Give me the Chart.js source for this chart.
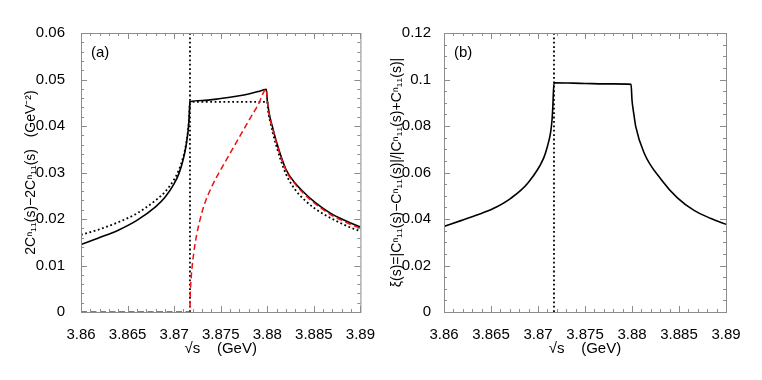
<!DOCTYPE html>
<html>
<head>
<meta charset="utf-8">
<script src="https://cdn.jsdelivr.net/npm/chart.js@4.4.0/dist/chart.umd.min.js"></script>
<style>
html, body { margin: 0; padding: 0; background: #fff; }
#wrap { position: relative; width: 762px; height: 380px; }
canvas { position: absolute; top: 0; }
</style>
</head>
<body>
<div id="wrap">
  <canvas id="panelA" width="381" height="380" style="left:0"></canvas>
  <canvas id="panelB" width="381" height="380" style="left:381px"></canvas>
</div>
<script>
// tick labels
const xTicks = [3.86, 3.865, 3.87, 3.875, 3.88, 3.885, 3.89];
const yTicksA = [0, 0.01, 0.02, 0.03, 0.04, 0.05, 0.06];
const yTicksB = [0, 0.02, 0.04, 0.06, 0.08, 0.1, 0.12];

// D0 D*0 threshold (vertical dotted line)
const thresholdX = [3.8717, 3.8717];
const thresholdYA = [0, 0.06];
const thresholdYB = [0, 0.12];

// panel (a): solid black curve
const solidX = [3.860, 3.862, 3.864, 3.866, 3.868, 3.869, 3.870, 3.8705, 3.871, 3.8713, 3.8715, 3.8716, 3.8717,
                3.873, 3.875, 3.877, 3.878, 3.879, 3.8795, 3.8799,
                3.8800, 3.8801, 3.8803, 3.8806, 3.881, 3.882, 3.883, 3.884, 3.885, 3.886, 3.887, 3.888, 3.889, 3.890];
const solidY = [0.0145, 0.0160, 0.0176, 0.0197, 0.0226, 0.0246, 0.0276, 0.0297, 0.0330, 0.0360, 0.0390, 0.0415, 0.0452,
                0.0455, 0.0459, 0.0465, 0.0469, 0.0474, 0.0477, 0.0479,
                0.0455, 0.0440, 0.0418, 0.0395, 0.0365, 0.0307, 0.0277, 0.0256, 0.0238, 0.0223, 0.0210, 0.0200, 0.0191, 0.0183];

// panel (a): dotted black curve
const dottedX = [3.860, 3.862, 3.864, 3.866, 3.868, 3.869, 3.870, 3.8705, 3.871, 3.8713, 3.8715, 3.8716, 3.8717,
                 3.8800, 3.8801, 3.8803, 3.8806, 3.881, 3.882, 3.883, 3.884, 3.885, 3.886, 3.887, 3.888, 3.889, 3.890];
const dottedY = [0.0166, 0.0178, 0.0193, 0.0212, 0.0240, 0.0258, 0.0285, 0.0305, 0.0335, 0.0363, 0.0392, 0.0415, 0.0452,
                 0.0452, 0.0430, 0.0410, 0.0385, 0.0355, 0.0297, 0.0263, 0.0241, 0.0224, 0.0211, 0.0200, 0.0190, 0.0181, 0.0174];

// panel (a): red dashed curve
const dashedX = [3.860, 3.8717, 3.87172, 3.87175, 3.8718, 3.8719, 3.8721, 3.8724, 3.8728, 3.8731, 3.8734, 3.874,
                 3.8745, 3.875, 3.876, 3.877, 3.878, 3.879, 3.8799,
                 3.8800, 3.8801, 3.8803, 3.8806, 3.881, 3.882, 3.883, 3.884, 3.885, 3.886, 3.887, 3.888, 3.889, 3.890];
const dashedY = [0, 0, 0.0030, 0.0047, 0.0065, 0.0091, 0.0126, 0.0164, 0.0200, 0.0222, 0.0240, 0.0268,
                 0.0288, 0.0306, 0.0341, 0.0376, 0.0411, 0.0445, 0.0479,
                 0.0455, 0.0439, 0.0416, 0.0393, 0.0363, 0.0305, 0.0275, 0.0253, 0.0235, 0.0220, 0.0207, 0.0197, 0.0188, 0.0180];

// panel (b): xi(s)
const xiX = [3.860, 3.8618, 3.8635, 3.8653, 3.8671, 3.8689, 3.8706, 3.871, 3.87135, 3.8715, 3.87158, 3.8717,
             3.875, 3.878, 3.8799, 3.8800, 3.8802, 3.8804, 3.8813, 3.8831, 3.8848, 3.8866, 3.8884, 3.8900];
const xiY = [0.0368, 0.0393, 0.0417, 0.0446, 0.0489, 0.0554, 0.0662, 0.0712, 0.0775, 0.0830, 0.0885, 0.0986,
             0.0983, 0.0981, 0.0979, 0.0912, 0.0850, 0.0797, 0.0683, 0.0570, 0.0492, 0.0437, 0.0402, 0.0377];

const FAMILY = '"Liberation Sans", Arial, sans-serif';

function pts(xs, ys) {
    return xs.map((x, i) => ({ x: x, y: ys[i] }));
}

function line(data, color, width, dash, smooth) {
    return {
        data: data,
        showLine: true,
        borderColor: color,
        borderWidth: width,
        borderDash: dash,
        pointRadius: 0,
        fill: false,
        cubicInterpolationMode: smooth ? 'monotone' : 'default',
        tension: 0
    };
}

// gnuplot-like frame: grey box with inward major and minor ticks on all sides
function tickList(majors, sub) {
    let out = [];
    majors.forEach((v, i) => {
        out.push([v, true]);
        if (i < majors.length - 1) {
            let step = (majors[i + 1] - v) / sub;
            for (let k = 1; k < sub; k++) out.push([v + k * step, false]);
        }
    });
    return out;
}

const framePlugin = {
    id: 'frame',
    afterDatasetsDraw(chart, args, opts) {
        const { ctx, chartArea: a, scales } = chart;
        ctx.save();
        ctx.strokeStyle = '#8c8c8c';
        ctx.lineWidth = 1;
        ctx.strokeRect(a.left + 0.5, a.top + 0.5, a.right - a.left, a.bottom - a.top);
        ctx.beginPath();
        tickList(xTicks, 5).forEach(([v, major]) => {
            const px = Math.round(scales.x.getPixelForValue(v)) + 0.5;
            const l = major ? 6 : 3;
            ctx.moveTo(px, a.bottom); ctx.lineTo(px, a.bottom - l);
            ctx.moveTo(px, a.top); ctx.lineTo(px, a.top + l);
        });
        tickList(opts.yTicks, opts.ySub).forEach(([v, major]) => {
            const py = Math.round(scales.y.getPixelForValue(v)) + 0.5;
            const l = major ? 6 : 3;
            ctx.moveTo(a.left, py); ctx.lineTo(a.left + l, py);
            ctx.moveTo(a.right, py); ctx.lineTo(a.right - l, py);
        });
        ctx.stroke();
        ctx.fillStyle = '#000';
        ctx.font = '15px ' + FAMILY;
        ctx.textBaseline = 'alphabetic';
        ctx.fillText(opts.label, a.left + 10, a.top + 24);
        ctx.restore();
    }
};

function makeChart(id, datasets, yTicks, ySub, yTitle, yWidth, yTitlePad, yTickPad, rightPad, label) {
    const tickFont = { family: FAMILY, size: 15 };
    return new Chart(document.getElementById(id), {
        type: 'scatter',
        data: { datasets: datasets },
        options: {
            responsive: false,
            animation: false,
            events: [],
            layout: { padding: { left: 0, right: rightPad, top: 33, bottom: 0 } },
            plugins: {
                legend: { display: false },
                tooltip: { enabled: false },
                frame: { yTicks: yTicks, ySub: ySub, label: label }
            },
            scales: {
                x: {
                    type: 'linear',
                    min: xTicks[0],
                    max: xTicks[xTicks.length - 1],
                    afterBuildTicks: s => { s.ticks = xTicks.map(v => ({ value: v })); },
                    afterFit: s => { s.height = 68; },
                    grid: { display: false },
                    border: { display: false },
                    ticks: { color: '#000', font: tickFont, padding: 6, maxRotation: 0, autoSkip: false,
                             callback: v => String(v) },
                    title: { display: true, text: '√s    (GeV)', color: '#000',
                             font: { family: FAMILY, size: 15 }, padding: { top: 0, bottom: 22 } }
                },
                y: {
                    type: 'linear',
                    min: yTicks[0],
                    max: yTicks[yTicks.length - 1],
                    afterBuildTicks: s => { s.ticks = yTicks.map(v => ({ value: v })); },
                    afterFit: s => { s.width = yWidth; },
                    grid: { display: false },
                    border: { display: false },
                    ticks: { color: '#000', font: tickFont, padding: yTickPad, autoSkip: false,
                             callback: v => String(v) },
                    title: { display: true, text: yTitle, color: '#000',
                             font: { family: FAMILY, size: 14 }, padding: { top: yTitlePad, bottom: 0 } }
                }
            }
        },
        plugins: [framePlugin]
    });
}

makeChart('panelA', [
    line(pts(dashedX, dashedY), '#ee1111', 1.5, [6, 3.5], true),
    line(pts(solidX, solidY), '#000', 1.6, [], true),
    line(pts(dottedX, dottedY), '#000', 1.8, [1.8, 2.6], true),
    line(pts(thresholdX, thresholdYA), '#000', 1.8, [1.8, 2.6], false)
], yTicksA, 5, '2Cⁿ₁₁(s)−2Cⁿ₁₁(s)   (GeV⁻²)', 81, 23, 8, 19, '(a)');

makeChart('panelB', [
    line(pts(xiX, xiY), '#000', 1.6, [], true),
    line(pts(thresholdX, thresholdYB), '#000', 1.8, [1.8, 2.6], false)
], yTicksB, 4, 'ξ(s)=|Cⁿ₁₁(s)−Cⁿ₁₁(s)|/|Cⁿ₁₁(s)+Cⁿ₁₁(s)|', 63, 8, 5, 36, '(b)');
</script>
</body>
</html>
